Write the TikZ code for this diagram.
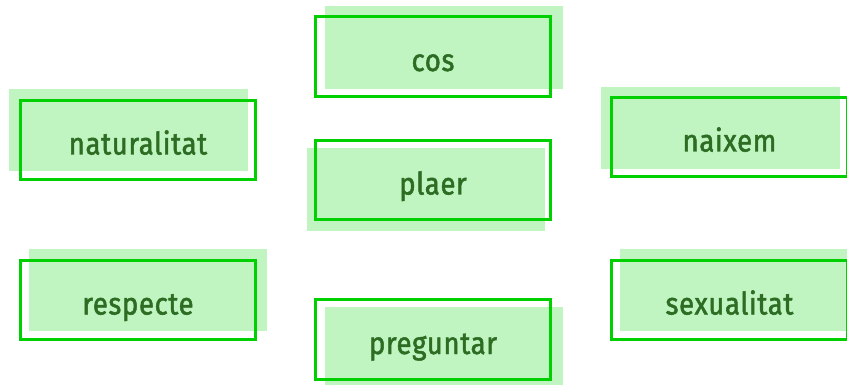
\documentclass[tikz,border=0pt]{standalone}
\usepackage{fontspec}
\setmainfont{Fira Sans}[FakeBold=1.6, LetterSpace=2, FakeStretch=0.89]
\usetikzlibrary{backgrounds}
\definecolor{boxfill}{RGB}{192,244,192}
\definecolor{boxline}{RGB}{0,208,0}
\definecolor{boxtext}{RGB}{45,108,35}
\tikzset{
  wordbox/.style={draw=boxline, line width=2.6pt, minimum width=235.5pt, minimum height=79.5pt,
    inner sep=0pt, text height=29pt, text depth=0pt, text=boxtext,
    font=\fontsize{31}{33}\selectfont},
  shadowfill/.style={fill=boxfill}
}
\newcommand{\shadowrect}[3]{%
  \fill[shadowfill] ([shift={(#2,#3)}]#1.north west) rectangle ([shift={(#2,#3)}]#1.south east);}
\begin{document}
\begin{tikzpicture}[x=1pt,y=-1pt]
\useasboundingbox (0,0) rectangle (847,385);
\node[wordbox] (cos) at (433,56.5) {cos};
\node[wordbox] (naturalitat) at (138,140) {naturalitat};
\node[wordbox] (plaer) at (433,180) {plaer};
\node[wordbox] (naixem) at (729.5,137) {naixem};
\node[wordbox] (respecte) at (138,300) {respecte};
\node[wordbox] (preguntar) at (433,339.5) {preguntar};
\node[wordbox] (sexualitat) at (729.5,300) {sexualitat};
\begin{scope}[on background layer]
\shadowrect{cos}{11}{-9}
\shadowrect{naturalitat}{-9.5}{-10}
\shadowrect{plaer}{-7}{9.5}
\shadowrect{naixem}{-9}{-9}
\shadowrect{respecte}{10}{-10}
\shadowrect{preguntar}{11}{9}
\shadowrect{sexualitat}{10}{-10}
\end{scope}
\end{tikzpicture}
\end{document}
